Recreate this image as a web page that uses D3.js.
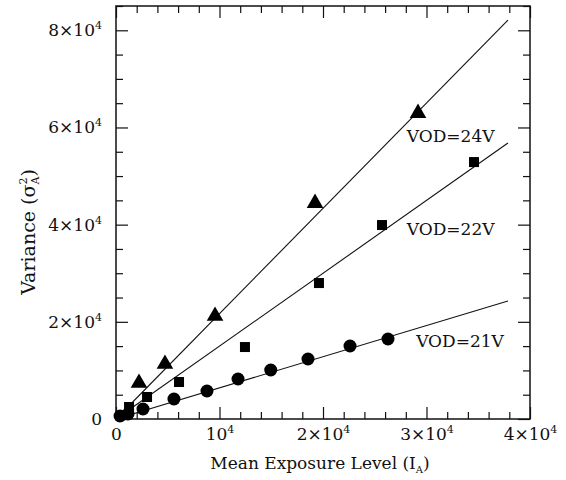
<!DOCTYPE html>
<html>
<head>
<meta charset="utf-8">
<script src="https://cdn.jsdelivr.net/npm/d3@7"></script>
<style>
  body { margin: 0; background: #fff; }
  text { font-family: "DejaVu Serif", serif; fill: #111; }
</style>
</head>
<body>
<div id="viz"></div>
<script>
// values
var vod24_x = [2220, 4730, 9570, 19230, 29180];
var vod24_y = [7410, 11320, 21190, 44440, 62960];

var vod22_x = [1260, 3000, 6090, 12460, 19610, 25700, 34590];
var vod22_y = [2470, 4530, 7610, 14810, 27980, 39920, 52880];

var vod21_x = [390, 1160, 2610, 5600, 8790, 11790, 14950, 18550, 22610, 26280];
var vod21_y = [620, 1030, 2060, 4120, 5760, 8230, 10080, 12350, 15020, 16460];

// fitted lines: [x start, y start, x end, y end]
var fit24 = [0, 0, 37870, 82100];
var fit22 = [0, 0, 37870, 56790];
var fit21 = [0, 0, 37870, 24280];

var labels = ["VOD=24V", "VOD=22V", "VOD=21V"];
var labelPos = [[28100, 57000], [28100, 37900], [29000, 14850]];

var xMajor = [0, 10000, 20000, 30000, 40000];
var yMajor = [0, 20000, 40000, 60000, 80000];

var W = 566, H = 480;
var pLeft = 116, pRight = 530, pTop = 6, pBottom = 419;

var svg = d3.select("#viz").append("svg")
    .attr("width", W).attr("height", H);

var x = d3.scaleLinear().domain([0, 40000]).range([pLeft, pRight]);
var y = d3.scaleLinear().domain([0, 85000]).range([pBottom, pTop]);

function sciLabel(sel, v) {
  sel.text(null);
  if (v === 0) { sel.text("0"); return; }
  var m = Math.round(v / 10000);
  sel.append("tspan").text(m === 1 ? "10" : m + "\u00d710");
  sel.append("tspan").attr("dy", -7).style("font-size", "11px").text("4");
}

var xMinor = d3.range(0, 40001, 2000).filter(function(d) { return xMajor.indexOf(d) < 0; });
var yMinor = d3.range(0, 85001, 5000).filter(function(d) { return yMajor.indexOf(d) < 0; });

// bottom
svg.append("g").attr("transform", "translate(0," + pBottom + ")")
  .call(d3.axisBottom(x).tickValues(xMajor).tickSize(-12).tickPadding(9))
  .call(function(g) {
    g.selectAll(".tick text").style("font-size", "17px").each(function(d) { sciLabel(d3.select(this), d); });
  });
svg.append("g").attr("transform", "translate(0," + pBottom + ")")
  .call(d3.axisBottom(x).tickValues(xMinor).tickSize(-7).tickFormat(""));
// top
svg.append("g").attr("transform", "translate(0," + pTop + ")")
  .call(d3.axisTop(x).tickValues(xMajor).tickSize(-12).tickFormat(""));
svg.append("g").attr("transform", "translate(0," + pTop + ")")
  .call(d3.axisTop(x).tickValues(xMinor).tickSize(-7).tickFormat(""));
// left
svg.append("g").attr("transform", "translate(" + pLeft + ",0)")
  .call(d3.axisLeft(y).tickValues(yMajor).tickSize(-12).tickPadding(14))
  .call(function(g) {
    g.selectAll(".tick text").style("font-size", "17px").each(function(d) { sciLabel(d3.select(this), d); });
  });
svg.append("g").attr("transform", "translate(" + pLeft + ",0)")
  .call(d3.axisLeft(y).tickValues(yMinor).tickSize(-7).tickFormat(""));
// right
svg.append("g").attr("transform", "translate(" + pRight + ",0)")
  .call(d3.axisRight(y).tickValues(yMajor).tickSize(-12).tickFormat(""));
svg.append("g").attr("transform", "translate(" + pRight + ",0)")
  .call(d3.axisRight(y).tickValues(yMinor).tickSize(-7).tickFormat(""));

svg.selectAll(".domain").remove();
svg.selectAll(".tick line").attr("stroke", "#111").attr("stroke-width", 1.2);

svg.append("rect")
  .attr("x", pLeft).attr("y", pTop)
  .attr("width", pRight - pLeft).attr("height", pBottom - pTop)
  .attr("fill", "none").attr("stroke", "#111").attr("stroke-width", 1.5);

// fit lines
[fit24, fit22, fit21].forEach(function(f) {
  svg.append("line")
    .attr("x1", x(f[0])).attr("y1", y(f[1]))
    .attr("x2", x(f[2])).attr("y2", y(f[3]))
    .attr("stroke", "#111").attr("stroke-width", 1.1);
});

// markers
svg.selectAll(".tri").data(vod24_x).enter().append("path")
  .attr("class", "tri")
  .attr("d", d3.symbol().type(d3.symbolTriangle).size(120))
  .attr("transform", function(d, i) { return "translate(" + x(d) + "," + y(vod24_y[i]) + ")"; })
  .attr("fill", "#000");

svg.selectAll(".sq").data(vod22_x).enter().append("rect")
  .attr("class", "sq")
  .attr("x", function(d) { return x(d) - 5; })
  .attr("y", function(d, i) { return y(vod22_y[i]) - 5; })
  .attr("width", 10).attr("height", 10)
  .attr("fill", "#000");

svg.selectAll(".dot").data(vod21_x).enter().append("circle")
  .attr("class", "dot")
  .attr("cx", function(d) { return x(d); })
  .attr("cy", function(d, i) { return y(vod21_y[i]); })
  .attr("r", 6.5)
  .attr("fill", "#000");

labels.forEach(function(t, i) {
  svg.append("text")
    .attr("x", x(labelPos[i][0])).attr("y", y(labelPos[i][1]))
    .style("font-size", "17px")
    .text(t);
});

// axis titles
var xt = svg.append("text")
  .attr("x", 320).attr("y", 469)
  .attr("text-anchor", "middle")
  .style("font-size", "17px");
xt.append("tspan").text("Mean Exposure Level (I");
xt.append("tspan").attr("dy", 4).style("font-size", "10px").text("A");
xt.append("tspan").attr("dy", -4).text(")");

var yt = svg.append("text")
  .attr("transform", "translate(35,232) rotate(-90)")
  .attr("text-anchor", "middle")
  .style("font-size", "19px");
yt.append("tspan").text("Variance (\u03c3");
yt.append("tspan").attr("dy", -8).style("font-size", "11px").text("2");
yt.append("tspan").attr("dx", -7).attr("dy", 12).style("font-size", "11px").text("A");
yt.append("tspan").attr("dy", -4).text(")");
</script>
</body>
</html>
